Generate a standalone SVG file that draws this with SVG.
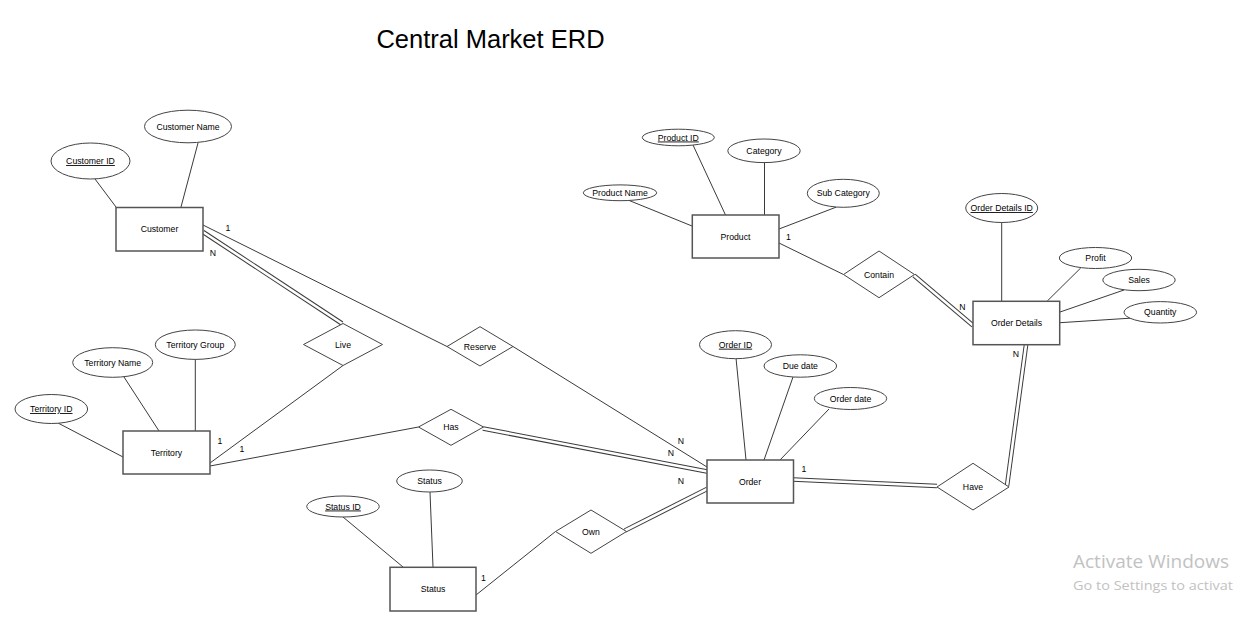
<svg xmlns="http://www.w3.org/2000/svg" width="1233" height="624" viewBox="0 0 1233 624">
<style>
.bg{fill:#ffffff}
.ln{stroke:#3a3a3a;stroke-width:1;fill:none}
.dblo{stroke:#3a3a3a;stroke-width:4.6;fill:none}
.dbli{stroke:#ffffff;stroke-width:2.6;fill:none}
.ent{fill:#ffffff;stroke:#555555;stroke-width:1.5}
.rel{fill:#ffffff;stroke:#444444;stroke-width:1}
.att{fill:#ffffff;stroke:#444444;stroke-width:1}
.t{font-family:"Liberation Sans",Arial,sans-serif;font-size:8.7px;fill:#000000;text-anchor:middle}
.key{text-decoration:underline}
.card{font-family:"Liberation Sans",Arial,sans-serif;font-size:8.7px;fill:#000000;text-anchor:middle}
.title{font-family:"Liberation Sans",Arial,sans-serif;font-size:25.5px;fill:#000000;text-anchor:middle}
.wm{font-family:"Open Sans","Noto Sans",sans-serif;fill:#c2c2c2}
</style>
<rect class="bg" x="0" y="0" width="1233" height="624"/>
<text class="title" x="490.5" y="48">Central Market ERD</text>

<g id="connectors">
  <!-- attribute lines -->
  <line class="ln" x1="95" y1="179" x2="116" y2="207"/>
  <line class="ln" x1="198" y1="143" x2="181" y2="207"/>
  <line class="ln" x1="58" y1="423" x2="123" y2="457"/>
  <line class="ln" x1="124" y1="377" x2="159" y2="431"/>
  <line class="ln" x1="195.3" y1="359" x2="195.3" y2="431"/>
  <line class="ln" x1="343" y1="517" x2="403" y2="567"/>
  <line class="ln" x1="430" y1="492" x2="433" y2="567"/>
  <line class="ln" x1="736" y1="358" x2="746" y2="460"/>
  <line class="ln" x1="793" y1="377" x2="764" y2="460"/>
  <line class="ln" x1="829" y1="409" x2="780" y2="460"/>
  <line class="ln" x1="693" y1="145" x2="725.5" y2="215"/>
  <line class="ln" x1="764.5" y1="162" x2="764.5" y2="215"/>
  <line class="ln" x1="628" y1="200" x2="692" y2="226"/>
  <line class="ln" x1="836.5" y1="207" x2="779" y2="229"/>
  <line class="ln" x1="1001.7" y1="222" x2="1001.7" y2="301"/>
  <line class="ln" x1="1080.7" y1="268" x2="1047.3" y2="301"/>
  <line class="ln" x1="1124" y1="290" x2="1060" y2="312"/>
  <line class="ln" x1="1133" y1="318" x2="1060" y2="322.7"/>
  <!-- relationship single lines -->
  <line class="ln" x1="203" y1="225" x2="447" y2="346.5"/>
  <line class="ln" x1="513" y1="346.5" x2="707" y2="467"/>
  <line class="ln" x1="210" y1="463" x2="343" y2="365.5"/>
  <line class="ln" x1="210" y1="466" x2="418.5" y2="427"/>
  <line class="ln" x1="779" y1="243" x2="843.5" y2="274.5"/>
  <line class="ln" x1="476" y1="595" x2="555.5" y2="531.5"/>
  <!-- relationship double lines -->
  <g>
    <line class="dblo" x1="203" y1="232" x2="342" y2="323.5"/>
    <line class="dblo" x1="483" y1="428.5" x2="707" y2="471.5"/>
    <line class="dblo" x1="625" y1="530.5" x2="707" y2="489"/>
    <line class="dblo" x1="793" y1="479.5" x2="937" y2="486"/>
    <line class="dblo" x1="1007" y1="486" x2="1026" y2="345"/>
    <line class="dblo" x1="914" y1="275.5" x2="973" y2="325.5"/>
    <line class="dbli" x1="203" y1="232" x2="342" y2="323.5"/>
    <line class="dbli" x1="483" y1="428.5" x2="707" y2="471.5"/>
    <line class="dbli" x1="625" y1="530.5" x2="707" y2="489"/>
    <line class="dbli" x1="793" y1="479.5" x2="937" y2="486"/>
    <line class="dbli" x1="1007" y1="486" x2="1026" y2="345"/>
    <line class="dbli" x1="914" y1="275.5" x2="973" y2="325.5"/>
  </g>
  <!-- cardinalities -->
  <text class="card" x="228" y="230.5">1</text>
  <text class="card" x="213" y="256">N</text>
  <text class="card" x="220" y="444">1</text>
  <text class="card" x="242" y="452">1</text>
  <text class="card" x="681" y="444">N</text>
  <text class="card" x="671" y="456">N</text>
  <text class="card" x="681" y="484">N</text>
  <text class="card" x="804" y="472">1</text>
  <text class="card" x="788.5" y="240">1</text>
  <text class="card" x="962.5" y="310">N</text>
  <text class="card" x="1016" y="357">N</text>
  <text class="card" x="483.5" y="580.5">1</text>
</g>

<!-- entities -->
<g id="customer"><rect class="ent" x="116" y="207.5" width="87" height="43.5"/><text class="t" x="159.5" y="232">Customer</text></g>
<g id="territory"><rect class="ent" x="123" y="431" width="87" height="43"/><text class="t" x="166.5" y="455.5">Territory</text></g>
<g id="order"><rect class="ent" x="707" y="460" width="86.5" height="43"/><text class="t" x="750" y="484.5">Order</text></g>
<g id="product"><rect class="ent" x="692.3" y="215" width="86.7" height="43"/><text class="t" x="735.5" y="239.5">Product</text></g>
<g id="order-details"><rect class="ent" x="973" y="301.3" width="86.7" height="43.4"/><text class="t" x="1016.5" y="326">Order Details</text></g>
<g id="status"><rect class="ent" x="390" y="567.3" width="86" height="43.7"/><text class="t" x="433" y="592">Status</text></g>

<!-- relationships -->
<g id="live"><polygon class="rel" points="303.5,344.5 343,323.5 382.5,344.5 343,365.5"/><text class="t" x="343" y="347.5">Live</text></g>
<g id="reserve"><polygon class="rel" points="447,346.5 480,326.7 513,346.5 480,366"/><text class="t" x="480" y="349.5">Reserve</text></g>
<g id="has"><polygon class="rel" points="418.5,427 451,409.3 483.5,427 451,445.3"/><text class="t" x="451" y="430">Has</text></g>
<g id="own"><polygon class="rel" points="555.5,531.5 591,510 626.5,531.5 591,553.3"/><text class="t" x="591" y="534.5">Own</text></g>
<g id="have"><polygon class="rel" points="937,487 973,463.3 1009,487 973,510"/><text class="t" x="973" y="490">Have</text></g>
<g id="contain"><polygon class="rel" points="843.5,274.5 879,251 914.5,274.5 879,297.7"/><text class="t" x="879" y="277.5">Contain</text></g>

<!-- attributes -->
<g id="attr-customer-id"><ellipse class="att" cx="90.5" cy="161" rx="39.5" ry="18"/><text class="t key" x="90.5" y="164">Customer ID</text></g>
<g id="attr-customer-name"><ellipse class="att" cx="188" cy="126.5" rx="43.5" ry="16.3"/><text class="t" x="188" y="129.5">Customer Name</text></g>
<g id="attr-territory-id"><ellipse class="att" cx="51.3" cy="409" rx="36.3" ry="14.5"/><text class="t key" x="51.3" y="412">Territory ID</text></g>
<g id="attr-territory-name"><ellipse class="att" cx="112.7" cy="362.5" rx="40" ry="14.8"/><text class="t" x="112.7" y="365.5">Territory Name</text></g>
<g id="attr-territory-group"><ellipse class="att" cx="195.3" cy="344.7" rx="40" ry="14.7"/><text class="t" x="195.3" y="347.7">Territory Group</text></g>
<g id="attr-status-id"><ellipse class="att" cx="343" cy="506.5" rx="36.3" ry="10.5"/><text class="t key" x="343" y="509.5">Status ID</text></g>
<g id="attr-status"><ellipse class="att" cx="429.5" cy="481" rx="32.8" ry="11"/><text class="t" x="429.5" y="484">Status</text></g>
<g id="attr-order-id"><ellipse class="att" cx="735.5" cy="344.7" rx="36" ry="14"/><text class="t key" x="735.5" y="347.7">Order ID</text></g>
<g id="attr-due-date"><ellipse class="att" cx="800.3" cy="366" rx="36.3" ry="11.2"/><text class="t" x="800.3" y="369">Due date</text></g>
<g id="attr-order-date"><ellipse class="att" cx="850.5" cy="398.5" rx="36.2" ry="11"/><text class="t" x="850.5" y="401.5">Order date</text></g>
<g id="attr-product-id"><ellipse class="att" cx="678.3" cy="137.5" rx="36" ry="8.3"/><text class="t key" x="678.3" y="140.5">Product ID</text></g>
<g id="attr-category"><ellipse class="att" cx="764" cy="150.8" rx="36.2" ry="11.8"/><text class="t" x="764" y="153.8">Category</text></g>
<g id="attr-product-name"><ellipse class="att" cx="620" cy="192.8" rx="36.7" ry="7.9"/><text class="t" x="620" y="195.8">Product Name</text></g>
<g id="attr-sub-category"><ellipse class="att" cx="843.3" cy="193.3" rx="36" ry="14"/><text class="t" x="843.3" y="196.3">Sub Category</text></g>
<g id="attr-order-details-id"><ellipse class="att" cx="1001.7" cy="208" rx="36" ry="14.5"/><text class="t key" x="1001.7" y="211">Order Details ID</text></g>
<g id="attr-profit"><ellipse class="att" cx="1095.5" cy="258" rx="36.2" ry="10.5"/><text class="t" x="1095.5" y="261">Profit</text></g>
<g id="attr-sales"><ellipse class="att" cx="1139" cy="280" rx="36.2" ry="10.7"/><text class="t" x="1139" y="283">Sales</text></g>
<g id="attr-quantity"><ellipse class="att" cx="1160.3" cy="312.3" rx="36.3" ry="10.7"/><text class="t" x="1160.3" y="315.3">Quantity</text></g>

<text class="wm" x="1073" y="568" font-size="18" textLength="156" lengthAdjust="spacingAndGlyphs">Activate Windows</text>
<text class="wm" x="1073" y="590" font-size="13.5" textLength="160" lengthAdjust="spacingAndGlyphs">Go to Settings to activat</text>
</svg>
